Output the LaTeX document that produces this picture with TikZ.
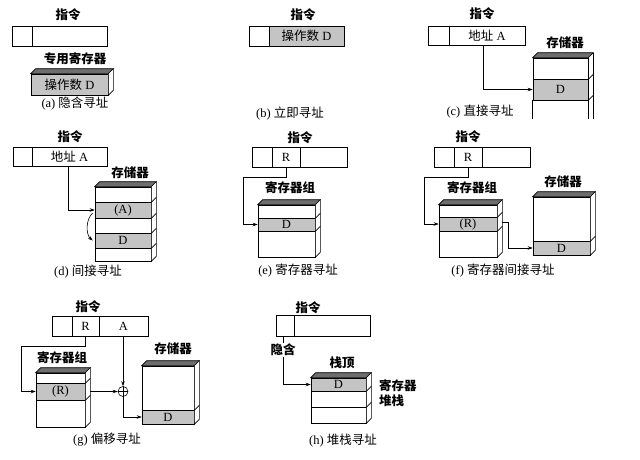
\documentclass[tikz,border=0pt]{standalone}
\usepackage{fontspec}
\setmainfont{Liberation Serif}
\newfontfamily\cjk{Noto Sans CJK SC}
\usetikzlibrary{arrows.meta,calc}
\definecolor{cellgray}{HTML}{C4C4C4}
\definecolor{topgray}{HTML}{6E6E6E}
\tikzset{
 cellbase/.style={draw, line width=0.6pt, inner sep=0pt, font=\fontsize{12.5}{14}\selectfont},
 gcell/.style={fill=cellgray},
 lbl/.style={inner sep=1pt, font=\fontsize{12.5}{14}\selectfont\bfseries},
 captxt/.style={inner sep=1pt, font=\fontsize{12.5}{14}\selectfont},
 arr/.style={-{Stealth[length=5pt,width=3.5pt]}, line width=0.6pt},
 ln/.style={line width=0.6pt},
 topface/.style={fill=topgray, draw, line width=0.6pt},
 sideface/.style={fill=white, draw, line width=0.6pt}
}
\newcommand\mkcell[7][]{\node[cellbase,#1,minimum width={(#5-#3)*1pt},minimum height={(#6-#4)*1pt}] (#2) at ({(#3+#5)/2},{(#4+#6)/2}) {#7};}
\newcommand\mkcube[3]{%
 \draw[topface] (#1.north west) -- ++(#3,-#3) -- ([shift={(#3,-#3)}]#1.north east) -- (#1.north east) -- cycle;
 \draw[sideface] (#1.north east) -- ([shift={(#3,-#3)}]#1.north east) -- ([shift={(#3,-#3)}]#2.south east) -- (#2.south east) -- cycle;}
\newcommand\sideline[2]{\draw[ln] (#1.south east) -- ++(#2,-#2);}
\begin{document}
\begin{tikzpicture}[x=1pt,y=-1pt]
\fill[white] (0,0) rectangle (640,459);
\useasboundingbox (0,0) rectangle (640,459);

% (a)
\node[lbl] (la) at (68,15) {\cjk 指令};
\mkcell{ia1}{12}{26}{32}{46}{}
\mkcell{ia2}{32}{26}{107}{46}{}
\node[lbl] (lra) at (75,59) {\cjk 专用寄存器};
\mkcell[gcell]{ra}{31}{74}{108}{95}{{\cjk 操作数}~D}
\mkcube{ra}{ra}{5}
\node[captxt] (capa) at (75,104) {(a) {\cjk 隐含寻址}};

% (b)
\node[lbl] (lb) at (303,15) {\cjk 指令};
\mkcell{ib1}{249}{26}{269}{46}{}
\mkcell[gcell]{ib2}{269}{26}{344}{46}{{\cjk 操作数}~D}
\node[captxt] (capb) at (290,114) {(b) {\cjk 立即寻址}};

% (c)
\node[lbl] (lc) at (482,14) {\cjk 指令};
\mkcell{ic1}{428}{26}{449}{45}{}
\mkcell{ic2}{449}{26}{525}{45}{{\cjk 地址}~A}
\node[lbl] (lmc) at (565,43) {\cjk 存储器};
\mkcell{cM1}{533}{58}{588}{79}{}
\mkcell[gcell]{cM2}{533}{79}{588}{100}{D}
\draw[ln] (cM2.south west) -- ++(0,19);
\draw[ln] (cM2.south east) -- ++(0,19);
\draw[topface] (cM1.north west) -- ++(5,-5) -- ([shift={(5,-5)}]cM1.north east) -- (cM1.north east) -- cycle;
\draw[ln] ([shift={(5,-5)}]cM1.north east) -- ++(0,66);
\sideline{cM1}{5}
\sideline{cM2}{5}
\draw[arr] ([xshift=-4pt]ic2.south) |- (cM2.west);
\node[captxt] (capc) at (480,112) {(c) {\cjk 直接寻址}};

% (d)
\node[lbl] (ld) at (70,137) {\cjk 指令};
\mkcell{id1}{13}{147}{32}{166}{}
\mkcell{id2}{32}{147}{107}{166}{{\cjk 地址}~A}
\node[lbl] (lmd) at (130,173) {\cjk 存储器};
\mkcell{dM1}{95}{187}{151}{202}{}
\mkcell[gcell]{dM2}{95}{202}{151}{218}{(A)}
\mkcell{dM3}{95}{218}{151}{233}{}
\mkcell[gcell]{dM4}{95}{233}{151}{248}{D}
\mkcell{dM5}{95}{248}{151}{261}{}
\mkcube{dM1}{dM5}{5}
\sideline{dM1}{5}\sideline{dM2}{5}\sideline{dM3}{5}\sideline{dM4}{5}
\draw[arr] ([xshift=-1.5pt]id2.south) |- (dM2.west);
\draw[arr] ([shift={(-2,3)}]dM2.west) .. controls +(-7,6) and +(-7,-6) .. ([shift={(-2,0)}]dM4.west);
\node[captxt] (capd) at (88,272) {(d) {\cjk 间接寻址}};

% (e)
\node[lbl] (le) at (300,138) {\cjk 指令};
\mkcell{ie1}{252}{147}{272}{167}{}
\mkcell{ie2}{272}{147}{300}{167}{R}
\mkcell{ie3}{300}{147}{347}{167}{}
\node[lbl] (lre) at (290,188) {\cjk 寄存器组};
\mkcell{eR1}{258}{205}{315}{218}{}
\mkcell[gcell]{eR2}{258}{218}{315}{231}{D}
\mkcell{eR3}{258}{231}{315}{257}{}
\mkcube{eR1}{eR3}{5}
\sideline{eR1}{5}\sideline{eR2}{5}
\draw[arr] (ie2.south) -- ++(0,10) -| ([xshift=-14pt]eR2.west) -- (eR2.west);
\node[captxt] (cape) at (298,271) {(e) {\cjk 寄存器寻址}};

% (f)
\node[lbl] (lf) at (468,137) {\cjk 指令};
\mkcell{if1}{434}{147}{454}{167}{}
\mkcell{if2}{454}{147}{482}{167}{R}
\mkcell{if3}{482}{147}{530}{167}{}
\node[lbl] (lrf) at (472,188) {\cjk 寄存器组};
\mkcell{fR1}{439}{205}{497}{217}{}
\mkcell[gcell]{fR2}{439}{217}{497}{231}{(R)}
\mkcell{fR3}{439}{231}{497}{257}{}
\mkcube{fR1}{fR3}{5}
\sideline{fR1}{5}\sideline{fR2}{5}
\node[lbl] (lmf) at (563,182) {\cjk 存储器};
\mkcell{fM1}{533}{197}{590}{241}{}
\mkcell[gcell]{fM2}{533}{241}{590}{255}{D}
\mkcube{fM1}{fM2}{5}
\sideline{fM1}{5}
\draw[arr] (if2.south) -- ++(0,10) -| ([xshift=-14pt]fR2.west) -- (fR2.west);
\draw[arr] ([shift={(5,-2)}]fR2.east) -- ++(6,0) |- (fM2.west);
\node[captxt] (capf) at (503,271) {(f) {\cjk 寄存器间接寻址}};

% (g)
\node[lbl] (lg) at (88,307) {\cjk 指令};
\mkcell{ig1}{52}{316}{72}{336}{}
\mkcell{ig2}{72}{316}{99}{336}{R}
\mkcell{ig3}{99}{316}{148}{336}{A}
\node[lbl] (lrg) at (62,358) {\cjk 寄存器组};
\mkcell{gR1}{36}{373}{85}{383}{}
\mkcell[gcell]{gR2}{36}{383}{85}{400}{(R)}
\mkcell{gR3}{36}{400}{85}{427}{}
\mkcube{gR1}{gR3}{5}
\sideline{gR1}{5}\sideline{gR2}{5}
\node[lbl] (lmg) at (173,349) {\cjk 存储器};
\mkcell{gM1}{142}{366}{194}{410}{}
\mkcell[gcell]{gM2}{142}{410}{194}{424}{D}
\mkcube{gM1}{gM2}{5}
\sideline{gM1}{5}
\node[circle, draw, line width=0.6pt, minimum size=10pt, inner sep=0pt] (gplus) at (123,391.5) {};
\draw[ln] (gplus.north) -- (gplus.south);
\draw[ln] (gplus.west) -- (gplus.east);
\draw[arr] (ig2.south) -- ++(0,10) -| ([xshift=-14pt]gR2.west) -- (gR2.west);
\draw[arr] (gplus.north |- ig3.south) -- (gplus.north);
\draw[arr] ([xshift=5pt]gR2.east |- gplus.west) -- (gplus.west);
\draw[arr] (gplus.south) |- (gM2.west);
\node[captxt] (capg) at (107,440) {(g) {\cjk 偏移寻址}};

% (h)
\node[lbl] (lh) at (308,308) {\cjk 指令};
\mkcell{ih1}{276}{315}{294}{336}{}
\mkcell{ih2}{294}{315}{370}{336}{}
\node[lbl] (hy) at (283,350) {\cjk 隐含};
\node[lbl] (lzd) at (342,363) {\cjk 栈顶};
\mkcell[gcell]{hS1}{311}{378}{366}{391}{D}
\mkcell{hS2}{311}{391}{366}{407}{}
\mkcell{hS3}{311}{407}{366}{423}{}
\mkcube{hS1}{hS3}{5}
\sideline{hS1}{5}\sideline{hS2}{5}
\node[lbl, anchor=west] (lst1) at (378,386) {\cjk 寄存器};
\node[lbl, anchor=west] (lst2) at (378,401) {\cjk 堆栈};
\draw[ln] (hy.north |- ih1.south) -- (hy.north);
\draw[arr] (hy.south) |- (hS1.west);
\node[captxt] (caph) at (343,441) {(h) {\cjk 堆栈寻址}};
\end{tikzpicture}
\end{document}
